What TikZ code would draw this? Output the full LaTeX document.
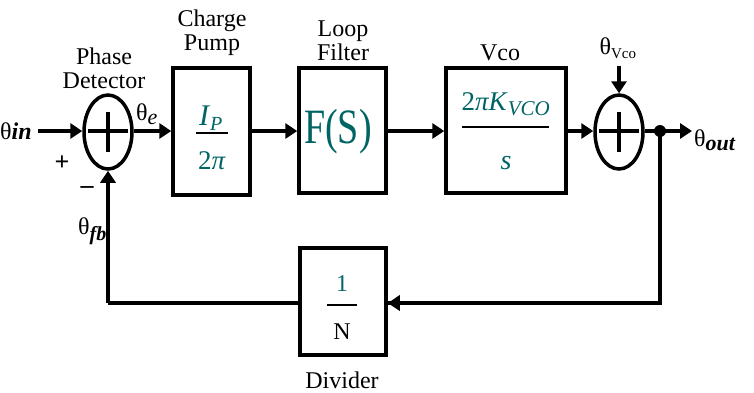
\documentclass[tikz,border=0pt]{standalone}
\usepackage{fontspec}
\setmainfont{LiberationSerif}[Extension=.ttf,UprightFont=*-Regular,BoldFont=*-Bold,ItalicFont=*-Italic,BoldItalicFont=*-BoldItalic]
\usepackage{graphicx}
\usetikzlibrary{arrows.meta,shapes.geometric}
\definecolor{tl}{RGB}{0,100,100}
\tikzset{
  blk/.style={draw,line width=3.5pt,inner sep=0pt},
  sumj/.style={draw,ellipse,line width=3.5pt,minimum width=48pt,minimum height=74pt,inner sep=0pt},
  wire/.style={line width=4pt},
  arr/.style={wire,-{Triangle[length=12pt,width=15pt]}},
  lbl/.style={font=\fontsize{24}{24}\selectfont,inner sep=0pt,align=center},
  tt/.style={text=tl,inner sep=0pt},
}
\begin{document}
\begin{tikzpicture}[x=1pt,y=-1pt]
\useasboundingbox (0,0) rectangle (754,392);
% blocks
\node[blk,minimum width=77pt,minimum height=127pt] (cp) at (211.5,131.5) {};
\node[blk,minimum width=87pt,minimum height=125pt] (lf) at (342.5,130.5) {};
\node[blk,minimum width=120pt,minimum height=125pt] (vco) at (506,130.5) {};
\node[blk,minimum width=86pt,minimum height=107pt] (dv) at (343,301.5) {};
\node[sumj] (s1) at (108,132) {};
\node[sumj] (s2) at (619,132) {};
% plus signs
\draw[line width=3.5pt] (88,131) -- (128,131) (108,112) -- (108,152);
\draw[line width=3.5pt] (599,131) -- (639,131) (619,112) -- (619,152);
% block contents
\node[tt,font=\fontsize{30}{30}\selectfont] (ip) at (211,118) {\textit{I}\textsubscript{\fontsize{20}{20}\selectfont\textit{P}}};
\draw[line width=1.2pt] (196,133) -- (228,133);
\node[tt,font=\fontsize{27}{27}\selectfont] (tp) at (212,161) {2\textit{π}};
\node[tt,font=\fontsize{38}{38}\selectfont] (fs) at (338,132) {\scalebox{1}[1.3]{F(S)}};
\node[tt,font=\fontsize{27}{27}\selectfont] (num) at (506,104) {2\textit{πK}\textsubscript{\fontsize{21}{21}\selectfont\textit{VCO}}};
\draw[line width=1.2pt] (462,127) -- (549,127);
\node[tt,font=\fontsize{28}{28}\selectfont] (den) at (506,163) {\textit{s}};
\node[tt,font=\fontsize{24}{24}\selectfont] (one) at (342,284) {1};
\draw[line width=1.2pt] (327,305) -- (357,305);
\node[inner sep=0pt,font=\fontsize{24}{24}\selectfont] (nn) at (342,332) {N};
% labels
\node[lbl] (lpd) at (104,68) {Phase\\Detector};
\node[lbl] (lcp) at (212,33) {Charge\\Pump};
\node[lbl] (llf) at (343,41) {Loop\\Filter};
\node[lbl] (lvco) at (500,53) {Vco};
\node[lbl] (ldv) at (342,380) {Divider};
\node[lbl,anchor=west] (lin) at (0,131) {θ\textit{\textbf{in}}};
\node[lbl,anchor=west] (le) at (136,114) {θ\textsubscript{\fontsize{22}{22}\selectfont\textit{e}}};
\node[lbl,anchor=east] (lfb) at (107,231) {θ\textsubscript{\fontsize{20}{20}\selectfont\textit{\textbf{fb}}}};
\node[lbl] (lvc) at (618,48) {θ\textsubscript{\fontsize{15}{15}\selectfont Vco}};
\node[lbl,anchor=west] (lout) at (694,140) {θ\textsubscript{\fontsize{22}{22}\selectfont\textit{\textbf{out}}}};
\node[inner sep=0pt,font=\fontsize{26}{26}\selectfont\bfseries] (plus) at (62,163) {+};
\node[inner sep=0pt,font=\fontsize{26}{26}\selectfont\bfseries] (minus) at (87,190) {–};
% coordinates
\coordinate (cin) at (38,131);
\coordinate (cvin) at (619,66);
\coordinate (tap) at (660,131);
\coordinate (cout) at (692,131);
\coordinate (br) at (660,303);
\coordinate (bl) at (108,303);
% connectors
\draw[arr] (cin) -- (s1.west |- cin);
\draw[arr] (s1.east |- cin) -- (cp.west |- cin);
\draw[arr] (cp.east |- cin) -- (lf.west |- cin);
\draw[arr] (lf.east |- cin) -- (vco.west |- cin);
\draw[arr] (vco.east |- cin) -- (s2.west |- cin);
\draw[arr] (s2.east |- cin) -- (cout);
\draw[arr] (cvin) -- (s2.north);
\fill (tap) circle (6pt);
\draw[wire,line join=miter] (tap) -- (br) -- (dv.east |- br);
\draw[arr] (br) -- (dv.east |- br);
\draw[wire] (dv.west |- bl) -- (bl);
\draw[arr] (bl) -- (s1.south);
\end{tikzpicture}
\end{document}
